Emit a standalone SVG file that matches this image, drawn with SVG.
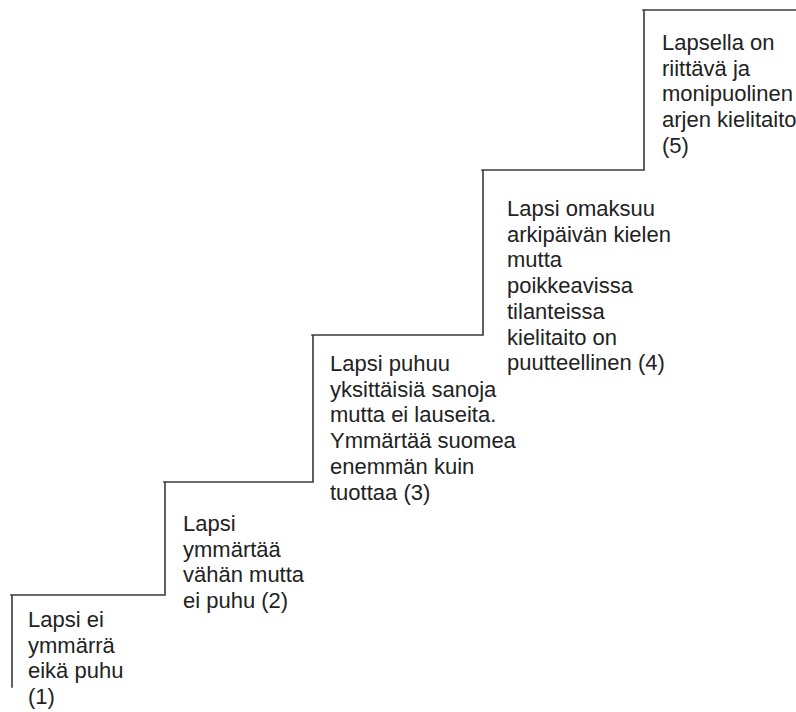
<svg xmlns="http://www.w3.org/2000/svg" width="796" height="712" viewBox="0 0 796 712">
<style>
.step{fill:none;stroke:#3a3a3a;stroke-width:1.6;stroke-linecap:square}
.t{font-family:"Liberation Sans",Arial,sans-serif;font-size:22px;fill:#222}
</style>
<rect width="796" height="712" fill="#fff"/>
<g id="stairs">
<path class="step" d="M12 687 V595 M11 595 H165 V482 M164 482 H313 V335 M312 335 H483 V170 M482 170 H644 V10 M643 10 H796"/>
</g>
<g id="step1">
<text class="t" x="28" y="627">Lapsi ei</text>
<text class="t" x="28" y="652.7">ymmärrä</text>
<text class="t" x="28" y="678.4">eikä puhu</text>
<text class="t" x="28" y="704">(1)</text>
</g>
<g id="step2">
<text class="t" x="183" y="531">Lapsi</text>
<text class="t" x="183" y="556.7">ymmärtää</text>
<text class="t" x="183" y="582.4">vähän mutta</text>
<text class="t" x="183" y="608">ei puhu (2)</text>
</g>
<g id="step3">
<text class="t" x="330" y="371">Lapsi puhuu</text>
<text class="t" x="330" y="396.7">yksittäisiä sanoja</text>
<text class="t" x="330" y="422.4">mutta ei lauseita.</text>
<text class="t" x="330" y="448">Ymmärtää suomea</text>
<text class="t" x="330" y="473.8">enemmän kuin</text>
<text class="t" x="330" y="499.5">tuottaa (3)</text>
</g>
<g id="step4">
<text class="t" x="507" y="216">Lapsi omaksuu</text>
<text class="t" x="507" y="241.7">arkipäivän kielen</text>
<text class="t" x="507" y="267.4">mutta</text>
<text class="t" x="507" y="293">poikkeavissa</text>
<text class="t" x="507" y="318.8">tilanteissa</text>
<text class="t" x="507" y="344.5">kielitaito on</text>
<text class="t" x="507" y="370.2">puutteellinen (4)</text>
</g>
<g id="step5">
<text class="t" x="662" y="50">Lapsella on</text>
<text class="t" x="662" y="75.7">riittävä ja</text>
<text class="t" x="662" y="101.4">monipuolinen</text>
<text class="t" x="662" y="127">arjen kielitaito</text>
<text class="t" x="662" y="152.8">(5)</text>
</g>
</svg>
